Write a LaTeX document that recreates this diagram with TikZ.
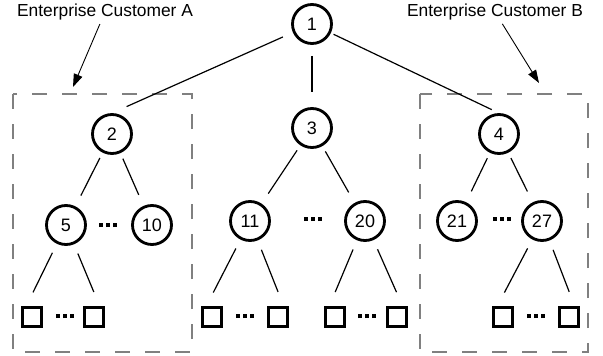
\documentclass[tikz,border=0pt]{standalone}
\usepackage{fontspec}
\setmainfont{Liberation Sans}
\usetikzlibrary{arrows.meta,calc}
\newcommand{\sqdots}{\rule{4pt}{4pt}\hspace{3pt}\rule{4pt}{4pt}\hspace{3pt}\rule{4pt}{4pt}}
\tikzset{
  circ/.style={circle,draw,line width=2.8pt,minimum size=39pt,inner sep=0pt,font=\fontsize{18}{20}\selectfont},
  sq/.style={rectangle,draw,line width=2.8pt,minimum size=19.5pt,inner sep=0pt},
  dotsnode/.style={inner sep=0pt,outer sep=0pt},
  edge/.style={line width=1.2pt},
  midedge/.style={edge,shorten <=6pt,shorten >=12pt},
  leafedge/.style={edge,shorten <=10pt,shorten >=15pt},
  grpbox/.style={draw=black!50,line width=1.4pt,dash pattern=on 15pt off 15pt},
  lbl/.style={font=\fontsize{17.4}{20}\selectfont,inner sep=1pt},
  callout/.style={line width=0.9pt,-{Triangle[length=13pt,width=9pt]},shorten <=3pt}
}
\begin{document}
\begin{tikzpicture}[x=1pt,y=-1pt]
\useasboundingbox (0,0) rectangle (603,356);
% group boxes
\draw[grpbox] (13,94) rectangle (192,352);
\draw[grpbox] (420,94) rectangle (588,352);
% labels
\node[lbl] (labA) at (105,12) {Enterprise Customer A};
\node[lbl] (labB) at (495,12) {Enterprise Customer B};
\coordinate (tipA) at (73,87);
\coordinate (tipB) at (539,83);
\draw[callout] (labA) -- (tipA);
\draw[callout] (labB) -- (tipB);
% circles
\node[circ] (n1) at (312,24) {1};
\node[circ] (n2) at (112,134) {2};
\node[circ] (n3) at (312,128) {3};
\node[circ] (n4) at (499,134) {4};
\node[circ] (n5) at (66,225) {5};
\node[circ] (n10) at (152,225) {10};
\node[circ] (n11) at (250,221) {11};
\node[circ] (n20) at (365,221) {20};
\node[circ] (n21) at (457,221) {21};
\node[circ] (n27) at (542,221) {27};
% squares
\node[sq] (s1) at (32,317) {};
\node[sq] (s2) at (94,317) {};
\node[sq] (s3) at (212,317) {};
\node[sq] (s4) at (278,317) {};
\node[sq] (s5) at (335,317) {};
\node[sq] (s6) at (397,317) {};
\node[sq] (s7) at (503,317) {};
\node[sq] (s8) at (569,317) {};
% dots
\node[dotsnode] (d1) at (108,225) {\sqdots};
\node[dotsnode] (d2) at (313,219) {\sqdots};
\node[dotsnode] (d3) at (502,219) {\sqdots};
\node[dotsnode] (d4) at (65,316) {\sqdots};
\node[dotsnode] (d5) at (245,316) {\sqdots};
\node[dotsnode] (d6) at (367,316) {\sqdots};
\node[dotsnode] (d7) at (536,316) {\sqdots};
% top edges
\draw[edge,shorten <=11pt,shorten >=16pt] (n1) -- (n2.north);
\draw[edge,shorten <=11pt,shorten >=15pt] (n1) -- (n3);
\draw[edge,shorten <=3pt,shorten >=8pt] (n1) -- (n4.north);
% middle edges
\draw[midedge] (n2) -- (n5);
\draw[midedge] (n2) -- (n10);
\draw[midedge] (n3) -- (n11);
\draw[midedge] (n3) -- (n20);
\draw[midedge] (n4) -- (n21);
\draw[midedge] (n4) -- (n27);
% leaf edges
\draw[leafedge] (n5) -- ($(s1.north west)!.5!(s1.north)$);
\draw[leafedge] (n5) -- ($(s2.north east)!.5!(s2.north)$);
\draw[leafedge] (n11) -- ($(s3.north west)!.5!(s3.north)$);
\draw[leafedge] (n11) -- ($(s4.north east)!.5!(s4.north)$);
\draw[leafedge] (n20) -- ($(s5.north west)!.5!(s5.north)$);
\draw[leafedge] (n20) -- ($(s6.north east)!.5!(s6.north)$);
\draw[leafedge] (n27) -- ($(s7.north west)!.5!(s7.north)$);
\draw[leafedge] (n27) -- ($(s8.north east)!.5!(s8.north)$);
\end{tikzpicture}
\end{document}
